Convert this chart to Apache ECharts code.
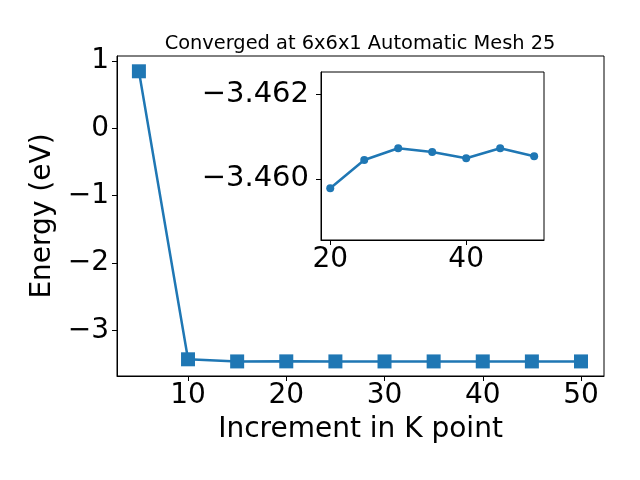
<!DOCTYPE html>
<html>
<head>
<meta charset="utf-8">
<script src="https://cdn.jsdelivr.net/npm/echarts@6/dist/echarts.min.js"></script>
<style>html,body{margin:0;padding:0;background:#fff}#c{width:640px;height:480px}</style>
</head>
<body>
<div id="c"></div>
<script>
const kpoints = [5, 10, 15, 20, 25, 30, 35, 40, 45, 50];
const energy = [0.847, -3.429, -3.4606, -3.45978, -3.46045, -3.46073, -3.46064, -3.46049, -3.46073, -3.46054];
const insetK = [20, 25, 30, 35, 40, 45, 50];
const insetEnergy = [-3.45978, -3.46045, -3.46073, -3.46064, -3.46049, -3.46073, -3.46054];
const mainXTicks = [10, 20, 30, 40, 50];
const mainYTicks = [-3, -2, -1, 0, 1];
const insetXTicks = [20, 40];
const insetYTicks = [-3.462, -3.460];
const titleText = 'Converged at 6x6x1 Automatic Mesh 25';
const xName = 'Increment in K point';
const yName = 'Energy (eV)';

const FONT = 'DejaVu Sans';
const FS = 28;
const C = '#1f77b4';
const minus = s => String(s).replace('-', '\u2212');

function axisCommon(ticks, fmt, margin, fs) {
  return {
    axisLine: {show: true, onZero: false, lineStyle: {color: '#000', width: 1}},
    axisTick: {show: true, inside: false, length: 5, lineStyle: {color: '#000', width: 1}, customValues: ticks},
    axisLabel: {show: true, color: '#000', fontFamily: FONT, fontSize: fs || FS, margin: margin, customValues: ticks, formatter: fmt},
    splitLine: {show: false}
  };
}

const chart = echarts.init(document.getElementById('c'), null, {renderer: 'canvas'});
chart.setOption({
  animation: false,
  backgroundColor: '#fff',
  title: {
    text: titleText, left: 355, top: 29, textAlign: 'center',
    textStyle: {fontFamily: FONT, fontSize: 19.4, fontWeight: 'normal', color: '#000'}
  },
  grid: [
    {left: 117, top: 56, width: 487, height: 320, show: true, borderColor: '#000', borderWidth: 1, backgroundColor: 'transparent'},
    {left: 321, top: 72, width: 223, height: 168, show: true, borderColor: '#000', borderWidth: 1, backgroundColor: '#fff'}
  ],
  xAxis: [
    Object.assign({type: 'value', gridIndex: 0, min: 2.77, max: 52.34,
      name: xName, nameLocation: 'middle', nameGap: 40,
      nameTextStyle: {fontFamily: FONT, fontSize: FS, color: '#000'}},
      axisCommon(mainXTicks, v => minus(v), 6)),
    Object.assign({type: 'value', gridIndex: 1, min: 18.64, max: 51.45},
      axisCommon(insetXTicks, v => minus(v), 6))
  ],
  yAxis: [
    Object.assign({type: 'value', gridIndex: 0, min: -3.677, max: 1.074,
      name: yName, nameLocation: 'middle', nameGap: 53,
      nameTextStyle: {fontFamily: FONT, fontSize: FS, color: '#000'}},
      axisCommon(mainYTicks, v => minus(Math.round(v)), 8)),
    Object.assign({type: 'value', gridIndex: 1, inverse: true, min: -3.46254, max: -3.45855},
      axisCommon(insetYTicks, v => minus(v.toFixed(3)), 12, 29))
  ],
  series: [
    {type: 'line', xAxisIndex: 0, yAxisIndex: 0, data: kpoints.map((k, i) => [k, energy[i]]),
      symbol: 'rect', symbolSize: 14, showAllSymbol: true,
      lineStyle: {color: C, width: 2.5}, itemStyle: {color: C}, z: 2},
    {type: 'line', xAxisIndex: 1, yAxisIndex: 1, data: insetK.map((k, i) => [k, insetEnergy[i]]),
      symbol: 'circle', symbolSize: 8, showAllSymbol: true,
      lineStyle: {color: C, width: 2.5}, itemStyle: {color: C}, z: 5}
  ]
});
</script>
</body>
</html>
